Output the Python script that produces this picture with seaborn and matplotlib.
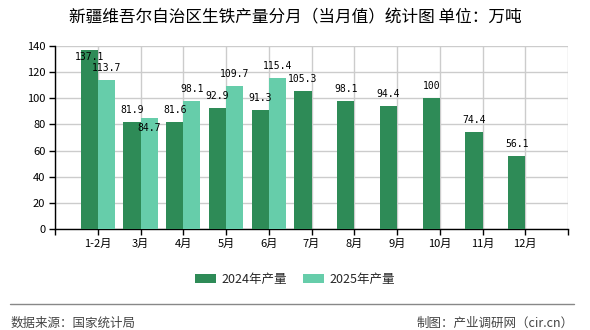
import numpy as np
import pandas as pd
import matplotlib
matplotlib.use("Agg")
import matplotlib.pyplot as plt
from matplotlib.patches import Patch
from matplotlib.lines import Line2D
import seaborn as sns

months = ["1-2月", "3月", "4月", "5月", "6月", "7月", "8月", "9月", "10月", "11月", "12月"]
prod_2024 = [137.1, 81.9, 81.6, 92.9, 91.3, 105.3, 98.1, 94.4, 100, 74.4, 56.1]
prod_2025 = [113.7, 84.7, 98.1, 109.7, 115.4, np.nan, np.nan, np.nan, np.nan, np.nan, np.nan]
series = ["2024年产量", "2025年产量"]
colors = ["#2E8B57", "#66CDAA"]
yticks = [0, 20, 40, 60, 80, 100, 120, 140]

df = pd.DataFrame({
    "month": months * 2,
    "value": prod_2024 + prod_2025,
    "series": [series[0]] * len(months) + [series[1]] * len(months),
})

sns.set_theme(style="white")
plt.rcParams["font.family"] = ["Noto Sans CJK SC", "DejaVu Sans"]

fig = plt.figure(figsize=(5.9, 3.3), dpi=100)
ax = fig.add_axes([55 / 590, 1 - 229 / 330, (568 - 55) / 590, (229 - 46) / 330])

sns.barplot(data=df, x="month", y="value", hue="series", order=months,
            hue_order=series, palette=colors, width=0.8, saturation=1,
            errorbar=None, legend=False, ax=ax, zorder=3,
            linewidth=0, edgecolor="none")

ax.set_xlim(-1, 11)
ax.set_ylim(0, 140)
ax.set_xticks(range(-1, 12))
ax.set_xticklabels([""] + months + [""])
ax.set_yticks(yticks)
ax.set_yticklabels([str(v) for v in yticks])
ax.set_xlabel("")
ax.set_ylabel("")
ax.grid(True, color="#cccccc", linewidth=1, zorder=0)
ax.set_axisbelow(True)
for s in ["top", "right"]:
    ax.spines[s].set_visible(False)
for s in ["left", "bottom"]:
    ax.spines[s].set_color("black")
    ax.spines[s].set_linewidth(1)
ax.tick_params(axis="both", which="both", length=4, width=1, color="black",
               labelsize=8, labelcolor="black", direction="out",
               bottom=True, left=True, pad=3)

# value labels
special = {(0, 0): -5.0, (1, 1): -6.8}
for si, cont in enumerate(ax.containers):
    for mi, bar in enumerate(cont):
        h = bar.get_height()
        if h is None or np.isnan(h):
            continue
        off = special.get((mi, si), 8.6)
        ax.annotate(f"{h:g}", (bar.get_x() + bar.get_width() / 2, h),
                    xytext=(0, off), textcoords="offset points",
                    ha="center", va="center", fontsize=7,
                    family="DejaVu Sans Mono", color="black", zorder=5)

handles = [Patch(facecolor=c, edgecolor="none") for c in colors]
fig.legend(handles, series, loc="center", bbox_to_anchor=(0.5, 1 - 279.5 / 330),
           ncol=2, frameon=False, fontsize=9, handlelength=1.7, handleheight=0.8,
           columnspacing=1.3, handletextpad=0.4)

fig.add_artist(Line2D([10 / 590, 574 / 590], [1 - 303.5 / 330] * 2,
                      color="#888888", linewidth=1))

fig.text(0.5, 1 - 18 / 330, "新疆维吾尔自治区生铁产量分月（当月值）统计图 单位：万吨",
         ha="center", va="center", fontsize=12, color="black")
fig.text(11 / 590, 1 - 323.5 / 330, "数据来源：国家统计局", ha="left", va="center",
         fontsize=9, color="#444444")
fig.text(574 / 590, 1 - 323.5 / 330, "制图：产业调研网（cir.cn）", ha="right", va="center",
         fontsize=9, color="#444444")

fig.savefig("out.png", dpi=100)
